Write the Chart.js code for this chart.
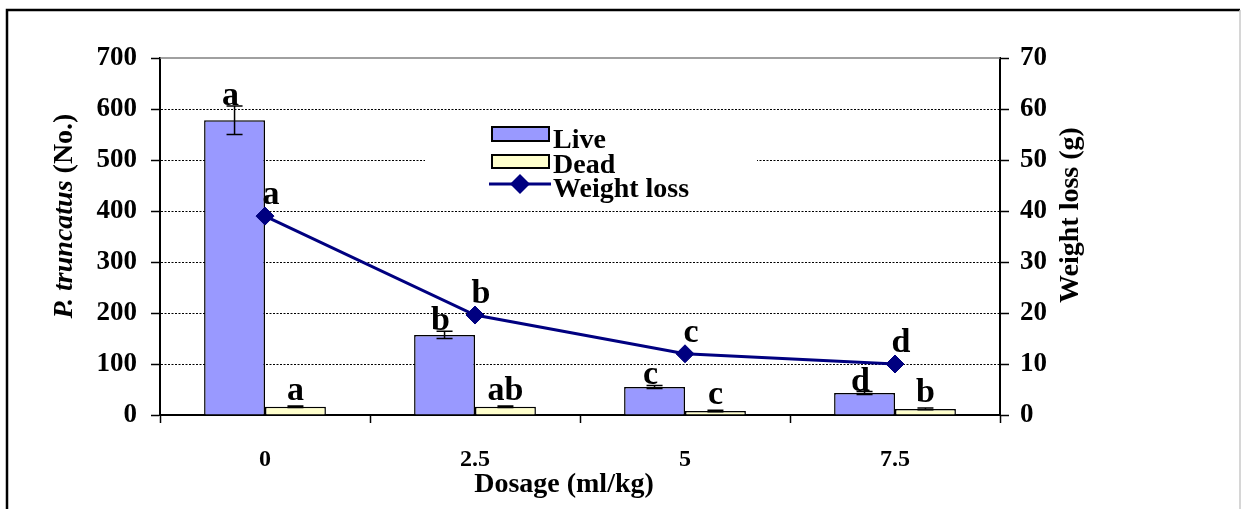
<!DOCTYPE html>
<html>
<head>
<meta charset="utf-8">
<script src="https://cdn.jsdelivr.net/npm/chart.js@4/dist/chart.umd.min.js"></script>
<style>
body { margin: 0; background: #fff; }
#wrap { width: 1244px; height: 509px; position: relative; }
</style>
</head>
<body>
<div id="wrap"><canvas id="chartContainer"></canvas></div>
<script>
// data
const dosages = ['0', '2.5', '5', '7.5'];
const liveCounts = [578, 157, 55, 43];
const liveErrors = [28, 7, 3, 3];
const deadCounts = [16, 16, 8, 12];
const deadErrors = [1.5, 1.5, 1.5, 1.5];
const weightLoss = [39, 19.6, 12, 10];
const liveLetters = ['a', 'b', 'c', 'd'];
const deadLetters = ['a', 'ab', 'c', 'b'];
const weightLetters = ['a', 'b', 'c', 'd'];
const countTicks = [0, 100, 200, 300, 400, 500, 600, 700];
const weightTicks = [0, 10, 20, 30, 40, 50, 60, 70];

const SERIF = '"Liberation Serif", "Times New Roman", serif';
const NAVY = '#000080';

const extras = {
    id: 'extras',
    beforeDraw(chart) {
        const ctx = chart.ctx;
        ctx.save();
        ctx.fillStyle = '#fff';
        ctx.fillRect(0, 0, chart.width, chart.height);
        // outer frame
        ctx.strokeStyle = '#000';
        ctx.lineWidth = 2.5;
        ctx.beginPath();
        ctx.moveTo(7, chart.height);
        ctx.lineTo(7, 10);
        ctx.lineTo(1240, 10);
        ctx.stroke();
        ctx.strokeStyle = '#c8c8c8';
        ctx.lineWidth = 1.5;
        ctx.beginPath();
        ctx.moveTo(1240, 10);
        ctx.lineTo(1240, chart.height);
        ctx.stroke();
        ctx.restore();
    },
    afterDatasetsDraw(chart) {
        const ctx = chart.ctx;
        const y = chart.scales.y;
        const area = chart.chartArea;
        ctx.save();

        // top line of plot area
        ctx.strokeStyle = '#808080';
        ctx.lineWidth = 1.5;
        ctx.beginPath();
        ctx.moveTo(area.left, area.top);
        ctx.lineTo(area.right, area.top);
        ctx.stroke();

        // error bars
        ctx.strokeStyle = '#000';
        ctx.lineWidth = 1.5;
        const drawErr = (metaIdx, vals, errs) => {
            chart.getDatasetMeta(metaIdx).data.forEach((bar, i) => {
                const top = y.getPixelForValue(vals[i] + errs[i]);
                const bot = y.getPixelForValue(vals[i] - errs[i]);
                ctx.beginPath();
                ctx.moveTo(bar.x, top);
                ctx.lineTo(bar.x, bot);
                ctx.moveTo(bar.x - 8, top);
                ctx.lineTo(bar.x + 8, top);
                ctx.moveTo(bar.x - 8, bot);
                ctx.lineTo(bar.x + 8, bot);
                ctx.stroke();
            });
        };
        drawErr(0, liveCounts, liveErrors);
        drawErr(1, deadCounts, deadErrors);

        // significance letters
        ctx.fillStyle = '#000';
        ctx.font = 'bold 34px ' + SERIF;
        ctx.textAlign = 'center';
        ctx.textBaseline = 'alphabetic';
        chart.getDatasetMeta(0).data.forEach((bar, i) => {
            const top = y.getPixelForValue(liveCounts[i] + liveErrors[i]);
            ctx.fillText(liveLetters[i], bar.x - 4, top - 1);
        });
        chart.getDatasetMeta(1).data.forEach((bar, i) => {
            const top = y.getPixelForValue(deadCounts[i] + deadErrors[i]);
            ctx.fillText(deadLetters[i], bar.x, top - 6);
        });
        chart.getDatasetMeta(2).data.forEach((pt, i) => {
            ctx.fillText(weightLetters[i], pt.x + 6, pt.y - 12);
        });

        // legend
        ctx.fillStyle = '#fff';
        ctx.fillRect(425, 118, 332, 84);
        ctx.lineWidth = 2;
        ctx.strokeStyle = '#000';
        ctx.fillStyle = '#9999FF';
        ctx.fillRect(492, 127, 57, 14);
        ctx.strokeRect(492, 127, 57, 14);
        ctx.fillStyle = '#FFFFCC';
        ctx.fillRect(492, 155, 57, 13);
        ctx.strokeRect(492, 155, 57, 13);
        ctx.strokeStyle = NAVY;
        ctx.lineWidth = 3;
        ctx.beginPath();
        ctx.moveTo(489, 184);
        ctx.lineTo(551, 184);
        ctx.stroke();
        ctx.fillStyle = NAVY;
        ctx.beginPath();
        ctx.moveTo(520, 174);
        ctx.lineTo(530, 184);
        ctx.lineTo(520, 194);
        ctx.lineTo(510, 184);
        ctx.closePath();
        ctx.fill();
        ctx.fillStyle = '#000';
        ctx.font = 'bold 28px ' + SERIF;
        ctx.textAlign = 'left';
        ctx.fillText('Live', 553, 148);
        ctx.fillText('Dead', 553, 173);
        ctx.fillText('Weight loss', 553, 197);

        // axis titles
        ctx.textAlign = 'center';
        ctx.font = 'bold 28px ' + SERIF;
        ctx.fillText('Dosage (ml/kg)', 564, 492);

        ctx.textBaseline = 'middle';
        ctx.save();
        ctx.translate(1071, 215);
        ctx.rotate(-Math.PI / 2);
        ctx.fillText('Weight loss (g)', 0, 0);
        ctx.restore();

        ctx.save();
        ctx.translate(65, 216);
        ctx.rotate(-Math.PI / 2);
        const italicFont = 'italic bold 28px ' + SERIF;
        const boldFont = 'bold 28px ' + SERIF;
        ctx.font = italicFont;
        const w1 = ctx.measureText('P. truncatus ').width;
        ctx.font = boldFont;
        const w2 = ctx.measureText('(No.)').width;
        const start = -(w1 + w2) / 2;
        ctx.textAlign = 'left';
        ctx.font = italicFont;
        ctx.fillText('P. truncatus ', start, 0);
        ctx.font = boldFont;
        ctx.fillText('(No.)', start + w1, 0);
        ctx.restore();

        ctx.restore();
    }
};

const tickFont = { family: SERIF, size: 27, weight: 'bold' };

new Chart(document.getElementById('chartContainer'), {
    data: {
        labels: dosages,
        datasets: [{
            type: 'bar',
            label: 'Live',
            data: liveCounts,
            yAxisID: 'y',
            backgroundColor: '#9999FF',
            borderColor: '#000',
            borderWidth: 1.5,
            categoryPercentage: 0.58,
            barPercentage: 1,
            order: 1
        }, {
            type: 'bar',
            label: 'Dead',
            data: deadCounts,
            yAxisID: 'y',
            backgroundColor: '#FFFFCC',
            borderColor: '#000',
            borderWidth: 1.5,
            categoryPercentage: 0.58,
            barPercentage: 1,
            order: 1
        }, {
            type: 'line',
            label: 'Weight loss',
            data: weightLoss,
            yAxisID: 'y1',
            borderColor: NAVY,
            borderWidth: 3,
            tension: 0,
            pointStyle: 'rectRot',
            pointRadius: 9,
            pointBackgroundColor: NAVY,
            pointBorderColor: NAVY,
            pointBorderWidth: 1,
            order: 0
        }]
    },
    options: {
        responsive: true,
        maintainAspectRatio: false,
        animation: false,
        layout: { padding: { top: 58, left: 0, right: 0, bottom: 0 } },
        plugins: {
            legend: { display: false },
            tooltip: { enabled: false }
        },
        scales: {
            x: {
                offset: true,
                grid: {
                    offset: true,
                    drawOnChartArea: false,
                    tickLength: 8,
                    tickColor: '#000',
                    tickWidth: 1.5
                },
                border: { color: '#000', width: 2 },
                ticks: { color: '#000', font: { family: SERIF, size: 24, weight: 'bold' }, padding: 22, maxRotation: 0 },
                afterFit: s => { s.height = 94; }
            },
            y: {
                position: 'left',
                min: 0,
                max: 700,
                afterBuildTicks: s => { s.ticks = countTicks.map(v => ({ value: v })); },
                grid: {
                    color: c => (c.tick && (c.tick.value === 0 || c.tick.value === 700)) ? 'rgba(0,0,0,0)' : '#000',
                    lineWidth: 1,
                    tickColor: '#000',
                    tickWidth: 1.5,
                    tickLength: 9
                },
                border: { color: '#000', width: 2, dash: [2, 1.5] },
                ticks: { color: '#000', font: tickFont, padding: 14 },
                afterFit: s => { s.width = 160; }
            },
            y1: {
                position: 'right',
                min: 0,
                max: 70,
                afterBuildTicks: s => { s.ticks = weightTicks.map(v => ({ value: v })); },
                grid: {
                    drawOnChartArea: false,
                    tickColor: '#000',
                    tickWidth: 1.5,
                    tickLength: 9
                },
                border: { color: '#000', width: 2 },
                ticks: { color: '#000', font: tickFont, padding: 11 },
                afterFit: s => { s.width = 244; }
            }
        }
    },
    plugins: [extras]
});
</script>
</body>
</html>
